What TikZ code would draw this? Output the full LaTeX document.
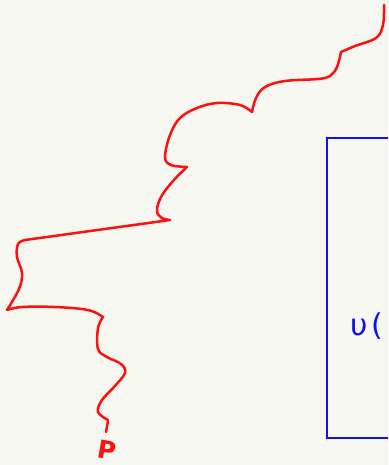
\documentclass[tikz,border=0pt]{standalone}
\usepackage{fontspec}
\newfontfamily\greekfont{DejaVu Sans}
\definecolor{bgc}{HTML}{F7F7F2}
\definecolor{redink}{HTML}{FF1010}
\definecolor{blueink}{HTML}{1010F0}
\begin{document}
\begin{tikzpicture}[x=1pt,y=-1pt,
  redline/.style={draw=redink,line width=2.5pt,line cap=round,line join=round},
  blueline/.style={draw=blueink,line width=2pt},
  bluetext/.style={text=blueink,font=\greekfont\fontsize{30}{30}\selectfont,inner sep=0pt,anchor=base west},
  redtext/.style={text=redink,font=\greekfont\bfseries\fontsize{25}{25}\selectfont,inner sep=0pt}]
\fill[bgc] (0,0) rectangle (388,465);
\useasboundingbox (0,0) rectangle (388,465);
\clip (0,0) rectangle (388,465);
% blue box
\draw[blueline] (400,138) -- (327,138) -- (327,438) -- (400,438);
\node[bluetext] (u) at (350,335) {υ\kern4pt(};
% red squiggle
\draw[redline] plot[smooth,tension=0.6] coordinates {(384,5) (383,25) (376,38) (355,46) (341,52)}
  -- plot[smooth,tension=0.6] coordinates {(341,52) (337,67) (330,76) (318,79) (285,81) (265,87) (256,98) (252,112)}
  -- plot[smooth,tension=0.6] coordinates {(252,112) (240,105) (217,103) (197,108) (180,118) (170,135) (165,157) (171,165) (187,167)}
  -- plot[smooth,tension=0.6] coordinates {(187,167) (173,181) (161,197) (157,211) (162,218) (170,220)}
  -- (25,240)
  -- plot[smooth,tension=0.6] coordinates {(25,240) (18,244) (17,257) (22,273) (19,289) (7,310)}
  -- plot[smooth,tension=0.6] coordinates {(7,310) (22,307) (55,307) (88,310) (103,317)}
  -- plot[smooth,tension=0.6] coordinates {(103,317) (98,328) (98,349) (107,357) (121,364) (125,373) (114,387) (102,400) (98,412) (108,420)};
\draw[redline] (108,421) -- (106,432);
\node[redtext,rotate=-10] (p) at (107,450) {P};
\end{tikzpicture}
\end{document}
